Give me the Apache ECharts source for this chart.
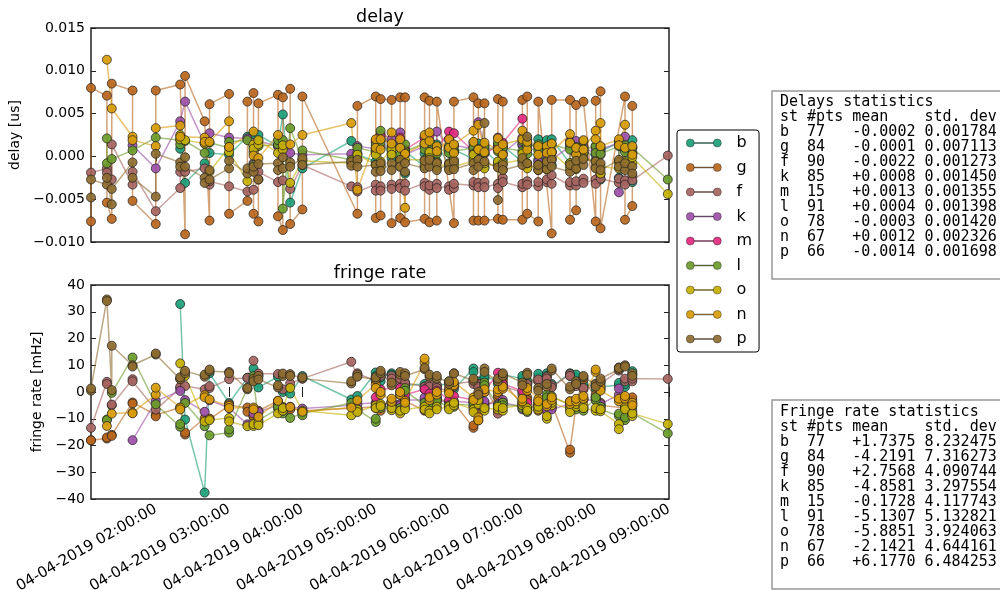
<!DOCTYPE html>
<html><head><meta charset="utf-8">
<script src="https://cdn.jsdelivr.net/npm/echarts@6/dist/echarts.min.js"></script>
<style>html,body{margin:0;padding:0;background:#fff}#c{width:1000px;height:590px}</style>
</head><body><div id="c"></div>
<script>
// ---------- data ----------
const scanTimes = ['01:07','01:20','01:24','01:41','02:00','02:20','02:24','02:40',
 '02:44','03:00','03:15','03:20','03:24','03:40','03:44','03:50',
 '04:00','04:40','04:45','05:00','05:04','05:13','05:20','05:24',
 '05:40','05:44','05:50','06:00','06:04','06:20','06:24','06:29',
 '06:40','06:44','07:00','07:04','07:13','07:20','07:24','07:39',
 '07:44','07:50','08:00','08:04','08:19','08:24','08:30','08:59'];
const xTickTimes = ['02:00','03:00','04:00','05:00','06:00','07:00','08:00','09:00'];
const delayTicks = [-0.010, -0.005, 0.000, 0.005, 0.010, 0.015];
const rateTicks = [-40, -30, -20, -10, 0, 10, 20, 30, 40];
const stations = ['b','g','f','k','m','l','o','n','p'];
const N = null;

const g_delay_hi = [0.0080,0.0071,0.0085,0.0077,0.0077,0.0084,0.0094,0.0041,
 0.0061,0.0073,0.0064,0.0074,0.0062,0.0072,0.0069,0.0079,
 0.0070,N,0.0059,0.0070,0.0067,0.0066,0.0069,0.0069,
 0.0069,0.0065,0.0064,N,0.0064,0.0069,0.0062,0.0062,
 0.0067,0.0064,0.0066,0.0070,0.0064,N,0.0066,0.0066,
 0.0060,0.0064,0.0065,0.0076,N,0.0070,0.0059,N];
const g_delay_lo = [-0.0076,-0.0054,-0.0073,-0.0052,-0.0079,N,-0.0091,N,
 -0.0075,-0.0067,-0.0052,-0.0067,-0.0076,-0.0070,-0.0086,-0.0079,
 -0.0062,N,-0.0067,-0.0072,-0.0069,-0.0078,-0.0072,-0.0077,
 -0.0073,-0.0077,-0.0075,N,-0.0078,-0.0075,-0.0075,-0.0075,
 -0.0073,-0.0074,-0.0074,-0.0067,-0.0076,N,-0.0090,-0.0074,
 -0.0063,N,-0.0076,-0.0084,N,-0.0074,-0.0058,N];
const g_rate_hi = [-18.1,-17.4,-16.4,-3.9,-9.1,-5.8,-15.2,-9.8,
 -9.9,-5.0,-7.4,-9.3,-7.4,-3.3,-5.6,-6.0,
 -7.4,N,-6.5,-5.5,-5.0,-3.7,0.0,-3.3,
 -6.6,-0.6,-2.0,N,-4.0,-13.4,-10.6,-5.0,
 -1.0,5.0,-4.0,-2.0,-6.0,N,-4.0,-22.7,
 -4.0,4.7,-1.0,-4.0,N,-6.0,-2.0,N];
const g_rate_lo = [-18.0,-17.0,-16.0,-4.3,-8.6,N,-15.9,N,
 -10.2,-4.6,-5.8,-9.0,-7.0,-3.8,-6.8,-6.5,
 -7.0,N,-6.0,-6.0,-7.0,-4.0,-1.0,-4.0,
 -7.0,-1.0,-3.0,N,-5.0,-12.5,-8.0,-6.0,
 -2.0,4.0,-5.0,-3.0,-7.0,N,-6.0,-21.5,
 -5.0,N,-2.0,-5.0,N,-5.0,-3.0,N];

const b_delay = [N,N,N,N,N,0.0009,-0.0031,-0.0008,
 0.0004,0.0002,0.0023,0.0026,0.0025,0.0012,0.0049,-0.0054,
 -0.0014,0.0018,0.0002,-0.0006,0.0019,-0.0002,0.0012,-0.0020,
 0.0003,-0.0009,0.0014,-0.0010,0.0008,-0.0003,0.0015,-0.0012,
 0.0010,-0.0004,0.0013,0.0020,0.0020,0.0019,0.0020,-0.0008,
 0.0005,0.0003,0.0012,-0.0027,-0.0025,-0.0013,0.0019,N];
const b_delay_2 = [N,N,N,N,N,N,N,N,
 N,N,N,N,N,N,N,N,
 N,N,N,0.0008,-0.0010,0.0010,-0.0004,0.0006,
 -0.0012,0.0004,-0.0006,0.0006,-0.0008,0.0012,-0.0002,0.0008,
 -0.0008,0.0012,-0.0006,0.0008,-0.0004,0.0006,-0.0010,0.0014,
 -0.0006,0.0010,-0.0004,0.0006,0.0016,0.0012,-0.0030,N];
const b_rate = [N,N,N,N,N,32.9,-10.3,-37.6,
 7.0,-4.1,5.3,8.8,1.7,5.7,0.0,-0.6,
 6.0,-2.8,-1.5,7.3,5.5,7.0,6.5,3.5,
 2.0,1.0,2.5,3.0,1.0,8.8,4.0,5.0,
 3.0,5.5,6.0,4.0,6.8,7.0,2.0,7.0,
 6.5,2.0,1.0,1.0,3.4,1.9,7.8,N];
const b_rate_2 = [N,N,N,N,N,N,N,N,
 N,N,N,N,N,N,N,N,
 N,N,N,6.0,4.0,6.5,5.0,2.5,
 3.0,0.0,1.5,4.0,2.0,7.5,3.0,6.0,
 4.0,6.5,5.0,3.0,5.5,6.0,3.0,6.0,
 5.5,3.0,2.0,2.0,2.5,3.0,6.5,N];

const f_delay = [-0.0019,-0.0014,0.0014,-0.0033,-0.0064,-0.0037,-0.0018,-0.0014,
 -0.0029,-0.0035,-0.0041,-0.0039,-0.0018,-0.0030,-0.0028,-0.0038,
 -0.0010,-0.0035,-0.0041,-0.0033,-0.0040,-0.0033,-0.0037,-0.0032,
 -0.0035,-0.0039,-0.0037,-0.0035,-0.0032,-0.0034,-0.0036,-0.0030,
 -0.0037,-0.0025,-0.0032,-0.0029,-0.0030,-0.0030,-0.0022,-0.0034,
 -0.0029,-0.0026,-0.0032,-0.0021,-0.0026,-0.0028,-0.0028,0.0001];
const f_delay_2 = [N,-0.0019,-0.0027,-0.0018,N,-0.0018,N,N,
 -0.0033,N,N,N,-0.0027,N,N,N,
 N,N,-0.0036,-0.0040,-0.0035,-0.0038,-0.0032,-0.0040,
 -0.0031,-0.0034,-0.0032,-0.0039,-0.0037,-0.0030,-0.0031,-0.0036,
 -0.0032,-0.0030,-0.0036,-0.0033,-0.0035,-0.0027,-0.0032,-0.0030,
 -0.0034,-0.0031,-0.0027,-0.0026,-0.0031,-0.0033,-0.0023,N];
const f_rate = [-13.4,3.8,-4.7,4.8,-6.6,1.5,2.2,1.0,
 2.2,4.8,5.3,11.7,6.9,6.7,1.0,3.2,
 5.0,11.3,7.0,4.0,7.2,6.0,5.0,2.5,
 1.0,3.0,1.5,0.5,3.0,4.0,2.0,3.0,
 -8.1,3.0,-1.0,2.0,4.7,5.7,1.7,6.7,
 2.2,0.9,3.0,3.8,9.2,4.0,5.0,4.9];
const f_rate_2 = [N,3.0,-5.0,4.0,N,2.0,N,N,
 1.5,N,N,N,6.0,N,N,N,
 N,N,6.0,5.0,6.0,5.0,4.0,3.5,
 2.0,2.0,2.5,1.5,2.0,3.0,3.0,2.0,
 -7.0,2.0,0.0,3.0,4.0,5.0,2.5,6.0,
 3.0,1.5,2.5,3.0,8.0,5.0,4.0,N];

const k_delay = [N,N,N,0.0013,-0.0014,0.0041,0.0064,0.0015,
 0.0027,0.0022,0.0021,-0.0008,0.0018,0.0012,0.0010,0.0004,
 0.0002,0.0003,0.0012,0.0009,0.0026,0.0011,0.0028,0.0008,
 0.0022,0.0005,0.0029,0.0011,0.0013,0.0009,0.0040,0.0012,
 0.0022,0.0011,0.0014,0.0009,-0.0006,0.0002,-0.0004,0.0012,
 0.0018,0.0005,0.0009,0.0002,-0.0042,0.0023,0.0010,N];
const k_delay_2 = [N,N,N,N,N,N,N,N,
 N,N,N,N,N,N,N,N,
 N,N,N,0.0016,0.0012,0.0020,0.0014,0.0002,
 0.0012,0.0018,0.0004,0.0020,0.0006,0.0016,0.0008,0.0004,
 0.0014,0.0004,0.0022,0.0016,0.0010,0.0008,0.0006,0.0018,
 0.0010,0.0012,0.0002,0.0008,0.0016,0.0008,0.0004,N];
const k_rate = [N,N,N,-18.0,-3.4,0.4,-3.0,-7.4,
 -3.1,-6.0,-12.1,-8.0,-7.4,-5.0,-6.0,-5.5,
 -6.2,-5.0,-4.5,-4.0,-5.5,-4.0,-5.0,-3.0,
 -2.0,-4.5,-2.4,-4.0,-3.5,-4.0,-5.0,-4.0,
 -5.5,-3.0,-6.5,-6.0,-5.0,-7.0,-6.5,-4.5,
 -3.5,-3.0,-2.0,-5.5,1.3,-3.5,-4.5,N];
const k_rate_2 = [N,N,N,N,N,N,N,N,
 N,N,N,N,N,N,N,N,
 N,N,N,-4.5,-5.0,-3.5,-4.5,-2.5,
 -3.0,-5.0,-3.0,-3.5,-4.5,-5.5,-4.5,-3.5,
 -4.5,-4.0,-5.5,-7.0,-4.0,-6.5,-5.5,-3.5,
 -4.5,-2.5,-3.0,-4.5,-1.0,-4.5,-5.5,N];

const m_delay = [N,N,N,N,N,N,N,N,
 N,N,N,N,N,N,N,N,
 N,N,N,0.0018,0.0024,N,0.0022,0.0008,
 0.0022,0.0024,0.0010,0.0029,0.0027,0.0006,N,0.0003,
 0.0012,0.0016,0.0044,0.0012,N,N,N,N,
 N,N,N,N,N,N,N,N];
const m_rate = [N,N,N,N,N,N,N,N,
 N,N,N,N,N,N,N,N,
 N,N,N,-2.0,1.0,N,1.5,-1.0,
 1.0,-0.6,0.5,-3.0,-1.5,-3.0,N,0.0,
 7.2,3.0,0.5,-4.0,N,N,N,N,
 N,N,N,N,N,N,N,N];

const l_delay = [N,0.0021,-0.0003,0.0007,0.0022,0.0019,0.0018,0.0004,
 0.0016,0.0010,0.0019,-0.0010,0.0012,0.0014,-0.0061,0.0033,
 0.0007,-0.0004,0.0010,0.0005,0.0030,0.0013,0.0002,0.0014,
 0.0008,0.0016,0.0003,0.0012,0.0006,0.0010,-0.0005,0.0004,
 0.0016,0.0002,0.0018,0.0003,0.0007,-0.0006,0.0014,0.0008,
 0.0011,0.0018,0.0004,0.0011,-0.0006,0.0005,0.0010,-0.0027];
const l_delay_2 = [N,-0.0008,N,N,N,0.0014,N,N,
 N,0.0017,N,0.0005,N,0.0019,0.0019,N,
 -0.0004,N,0.0004,0.0013,0.0016,0.0004,0.0010,0.0006,
 0.0015,0.0004,0.0010,0.0004,0.0012,0.0003,0.0008,0.0012,
 0.0006,0.0010,0.0006,0.0012,0.0014,0.0008,0.0004,0.0016,
 0.0003,0.0008,0.0012,0.0003,0.0012,0.0013,0.0003,N];
const l_rate = [N,-10.3,-0.3,12.9,-4.6,-13.0,-4.1,-12.8,
 -16.2,-15.2,1.5,5.9,-10.6,-6.2,-7.0,-9.7,
 -8.7,-4.1,-7.2,-11.2,-6.0,-5.0,-7.0,1.5,
 -4.0,-5.5,-3.0,-6.0,-4.5,-5.0,-3.0,3.5,
 -6.0,-4.0,-6.0,-7.5,-3.5,-1.0,-1.5,-5.0,
 -6.5,-7.0,-2.0,-5.5,-8.1,-10.5,-8.0,-15.5];
const l_rate_2 = [N,-10.5,N,N,N,-12.0,N,N,
 N,-14.0,N,4.5,N,-5.5,-8.0,N,
 -8.0,N,-6.5,-10.0,-5.0,-6.0,-6.0,0.5,
 -5.0,-4.5,-4.0,-5.0,-5.5,-4.0,-4.0,2.5,
 -5.0,-5.0,-5.0,-6.5,-4.5,-2.0,-2.5,-6.0,
 -5.5,-6.0,-3.0,-6.5,-9.0,-9.5,-7.0,N];

const o_delay = [N,N,N,N,N,0.0025,0.0019,0.0015,
 -0.0018,0.0011,-0.0029,0.0014,0.0019,0.0004,0.0013,-0.0031,
 -0.0005,-0.0008,0.0002,-0.0010,-0.0006,0.0008,-0.0012,0.0004,
 -0.0010,0.0005,-0.0013,-0.0008,-0.0012,-0.0005,0.0008,-0.0014,
 -0.0006,-0.0015,0.0003,-0.0014,-0.0010,-0.0015,0.0005,-0.0014,
 -0.0015,0.0004,-0.0012,-0.0020,-0.0007,-0.0012,-0.0001,-0.0044];
const o_delay_2 = [N,N,N,N,N,0.0020,N,N,
 N,0.0005,N,0.0009,0.0014,N,0.0008,N,
 N,N,-0.0004,0.0002,-0.0012,0.0002,-0.0006,-0.0004,
 -0.0004,-0.0002,-0.0007,-0.0014,-0.0004,0.0002,-0.0004,-0.0008,
 -0.0012,-0.0008,-0.0004,-0.0008,-0.0016,-0.0008,-0.0002,-0.0008,
 -0.0010,-0.0002,-0.0006,-0.0012,-0.0014,-0.0006,-0.0008,N];
const o_rate = [N,N,N,N,N,10.7,6.0,-11.0,
 -10.5,-9.7,-12.8,-12.7,-12.4,-8.0,-6.0,1.5,
 -7.0,-8.7,-7.5,-5.0,-5.3,-6.8,-7.0,-5.5,
 -6.6,-7.0,-6.5,-5.3,-4.0,-6.5,-3.0,-7.0,
 -5.5,-7.0,-4.0,-6.0,-5.5,-10.0,-4.0,-6.5,
 -4.5,-5.0,-6.0,-7.2,-13.9,-5.5,-8.0,-12.0];
const o_rate_2 = [N,N,N,N,N,5.0,N,N,
 N,-11.0,N,-12.0,-11.5,N,-7.0,N,
 N,N,-6.5,-6.0,-4.5,-6.0,-8.0,-6.5,
 -5.5,-8.0,-5.5,-6.5,-5.0,-7.5,-4.5,-6.0,
 -6.5,-6.0,-5.0,-7.0,-6.5,-9.0,-5.0,-7.5,
 -5.5,-6.0,-7.0,-6.5,-12.0,-6.5,-9.0,N];

const n_delay = [N,0.0113,0.0056,0.0023,0.0033,0.0036,N,0.0022,
 0.0017,0.0041,N,0.0029,-0.0002,0.0025,N,0.0014,
 0.0025,0.0039,-0.0039,0.0020,0.0020,0.0015,0.0010,-0.0060,
 0.0025,0.0018,0.0006,0.0020,0.0014,0.0030,0.0037,0.0005,
 0.0021,0.0002,0.0030,0.0008,0.0002,0.0012,0.0005,0.0026,
 0.0010,0.0019,0.0020,0.0039,0.0013,0.0037,0.0002,N];
const n_delay_2 = [N,N,N,0.0019,0.0012,0.0023,N,0.0017,
 N,0.0011,N,0.0001,N,N,N,N,
 N,N,N,0.0010,0.0008,0.0028,0.0020,0.0003,
 0.0015,0.0028,0.0012,0.0010,0.0004,0.0017,0.0008,0.0016,
 0.0008,0.0014,0.0020,0.0017,0.0012,0.0004,0.0015,0.0016,
 0.0002,0.0008,0.0030,0.0012,0.0020,0.0010,0.0012,N];
const n_rate = [N,-12.7,-8.1,-7.7,1.6,-5.8,N,-1.2,
 -2.8,-5.2,N,-5.8,-9.3,-3.3,N,-5.6,
 -7.4,-5.8,-3.1,2.8,0.0,-3.7,0.0,-3.3,
 12.5,-3.0,0.0,0.5,3.8,-2.0,-10.6,0.0,
 1.0,1.2,-2.5,0.5,-3.5,-5.3,-2.0,-4.5,
 -2.5,-2.5,8.4,1.7,-2.5,-2.5,-5.0,N];
const n_rate_2 = [N,N,N,-8.0,-1.0,-6.5,N,-2.0,
 N,-6.0,N,-6.5,N,N,N,N,
 N,N,N,1.5,-1.0,-2.5,-1.0,-4.0,
 11.0,-2.0,-1.0,-0.5,2.5,-3.0,-9.5,1.0,
 0.0,2.0,-3.5,1.5,-2.5,-4.5,-3.0,-3.5,
 -3.5,-1.5,7.5,0.5,-3.5,-1.5,-4.0,N];

const p_delay = [-0.0027,-0.0033,-0.0038,-0.0007,0.0003,-0.0007,-0.0012,-0.0025,
 -0.0027,-0.0014,-0.0014,-0.0018,-0.0009,-0.0008,-0.0001,-0.0007,
 -0.0010,-0.0006,-0.0012,-0.0010,-0.0017,-0.0008,-0.0012,-0.0018,
 -0.0005,-0.0012,-0.0016,-0.0009,-0.0015,-0.0008,-0.0012,0.0039,
 -0.0051,-0.0010,-0.0002,0.0023,-0.0010,-0.0015,-0.0012,-0.0018,
 -0.0005,-0.0010,-0.0014,-0.0008,-0.0012,-0.0016,-0.0020,N];
const p_delay_2 = [-0.0048,-0.0025,-0.0056,-0.0025,-0.0047,-0.0012,-0.0001,-0.0031,
 -0.0016,-0.0005,-0.0020,-0.0012,-0.0027,-0.0016,-0.0014,-0.0012,
 -0.0002,-0.0011,-0.0004,-0.0018,-0.0008,-0.0016,-0.0004,-0.0008,
 -0.0014,-0.0004,-0.0008,-0.0016,-0.0006,-0.0016,-0.0004,-0.0006,
 -0.0013,-0.0016,-0.0010,-0.0008,-0.0016,-0.0006,-0.0004,-0.0010,
 -0.0014,-0.0003,-0.0006,-0.0016,-0.0004,-0.0008,-0.0012,N];
const p_rate = [1.3,34.6,17.3,10.0,14.4,4.8,7.9,5.7,
 8.4,7.5,1.5,5.0,4.7,1.7,6.9,6.7,
 5.5,3.2,5.7,4.8,7.9,2.5,7.5,7.0,
 9.0,5.7,6.0,3.0,6.9,4.2,-1.0,8.8,
 5.0,6.0,2.5,7.2,0.5,2.0,8.8,1.0,
 3.0,5.5,2.0,4.0,9.0,10.0,6.0,N];
const p_rate_2 = [0.5,34.0,0.7,9.5,14.0,5.5,7.0,6.5,
 7.8,7.0,1.0,4.0,6.0,2.5,6.0,6.0,
 5.0,4.0,6.5,5.5,7.0,3.5,6.5,6.0,
 8.5,6.5,5.0,4.0,7.0,5.0,0.0,7.5,
 4.0,7.0,3.5,6.5,1.5,3.0,8.0,2.0,
 4.0,6.0,3.0,5.0,8.5,9.5,7.0,N];

// statistics tables
const statPts = [77,84,90,85,15,91,78,67,66];
const delayMean = [-0.0002,-0.0001,-0.0022,0.0008,0.0013,0.0004,-0.0003,0.0012,-0.0014];
const delayStd = [0.001784,0.007113,0.001273,0.001450,0.001355,0.001398,0.001420,0.002326,0.001698];
const rateMean = [1.7375,-4.2191,2.7568,-4.8581,-0.1728,-5.1307,-5.8851,-2.1421,6.1770];
const rateStd = [8.232475,7.316273,4.090744,3.297554,4.117743,5.132821,3.924063,4.644161,6.484253];

// ---------- build ----------
const colors = {b:'#1b9e77', g:'#b8661c', f:'#a6645f', k:'#9d50a8', m:'#e2297f',
  l:'#6a9b29', o:'#c6b003', n:'#d89b06', p:'#8d6b2f'};
const toMin = s => { const [h,m] = s.split(':').map(Number); return h*60+m; };
const EMPTY = scanTimes.map(()=>null);
function zig(a, b){ const out=[]; for(let i=0;i<scanTimes.length;i++){ const pair = i%2===0 ? [b[i],a[i]] : [a[i],b[i]]; pair.forEach(v=>{ if(v!==null) out.push([toMin(scanTimes[i]), v]); }); } return out; }
const delaySets = {b:zig(b_delay,b_delay_2), g:zig(g_delay_hi,g_delay_lo), f:zig(f_delay,f_delay_2), k:zig(k_delay,k_delay_2),
  m:zig(m_delay,EMPTY), l:zig(l_delay,l_delay_2), o:zig(o_delay,o_delay_2), n:zig(n_delay,n_delay_2), p:zig(p_delay,p_delay_2)};
const rateSets = {b:zig(b_rate,b_rate_2), g:zig(g_rate_hi,g_rate_lo), f:zig(f_rate,f_rate_2), k:zig(k_rate,k_rate_2),
  m:zig(m_rate,EMPTY), l:zig(l_rate,l_rate_2), o:zig(o_rate,o_rate_2), n:zig(n_rate,n_rate_2), p:zig(p_rate,p_rate_2)};

const FONT = 'DejaVu Sans';
const tickVals = xTickTimes.map(toMin);
const pad = n => String(n).padStart(2,'0');
const dateFmt = v => '04-04-2019 ' + pad(Math.floor(v/60)) + ':' + pad(v%60) + ':00';
const minus = s => s.replace('-', '\u2212');

function xAx(grid, pos, labels){
  return {type:'value', gridIndex:grid, position:pos, min:toMin('01:07'), max:toMin('09:00'),
    axisLine:{show:false}, splitLine:{show:false},
    axisTick:{show:true, inside:true, length:5, customValues:tickVals, lineStyle:{color:'#222', width:1}},
    axisLabel:{show:labels, customValues:tickVals, rotate:30, margin:9, interval:0, formatter:dateFmt,
      fontFamily:FONT, fontSize:15, color:'#000'}};
}
function yAx(grid, pos, min, max, step, fmt, name, gap){
  return {type:'value', gridIndex:grid, position:pos, min:min, max:max, interval:step,
    name: name || '', nameLocation:'middle', nameGap:gap||0, nameRotate:90,
    nameTextStyle:{fontFamily:FONT, fontSize:14, color:'#000'},
    axisLine:{show:false}, splitLine:{show:false},
    axisTick:{show:true, inside:true, length:5, lineStyle:{color:'#222', width:1}},
    axisLabel:{show:!!fmt, margin:6, formatter:fmt, fontFamily:FONT, fontSize:14, color:'#000'}};
}

const series = [];
stations.forEach(st => {
  const base = {type:'line', name:st, symbol:'circle', symbolSize:9, showSymbol:true,
    itemStyle:{color:colors[st], borderColor:'#222', borderWidth:0.8, opacity:0.92},
    lineStyle:{color:colors[st], width:1.5, opacity:0.6}, animation:false, clip:true};
  series.push(Object.assign({}, base, {xAxisIndex:0, yAxisIndex:0, data:delaySets[st]}));
  series.push(Object.assign({}, base, {xAxisIndex:2, yAxisIndex:2, data:rateSets[st]}));
});

function table(title, means, stds){
  const lines = [title, 'st #pts mean    std. dev'];
  stations.forEach((st,i)=>{
    const mu = (means[i] >= 0 ? '+' : '-') + Math.abs(means[i]).toFixed(4);
    lines.push(st.padEnd(3) + String(statPts[i]).padEnd(5) + mu + ' ' + stds[i].toFixed(6));
  });
  return lines.join('\n');
}
const txt = (x,y,text,font,extra) => ({type:'text', x:x, y:y, silent:true,
  style:Object.assign({text:text, font:font, fill:'#000'}, extra||{})});

const option = {
  animation:false,
  backgroundColor:'#fff',
  grid:[
    {left:91, top:28, width:578, height:214, show:true, borderColor:'#222', borderWidth:1.5, backgroundColor:'#fff', containLabel:false, outerBoundsMode:'none'},
    {left:91, top:285, width:578, height:214, show:true, borderColor:'#222', borderWidth:1.5, backgroundColor:'#fff', containLabel:false, outerBoundsMode:'none'}
  ],
  xAxis:[xAx(0,'bottom',false), xAx(0,'top',false), xAx(1,'bottom',true), xAx(1,'top',false)],
  yAxis:[
    yAx(0,'left',delayTicks[0],delayTicks[delayTicks.length-1],0.005, v=>minus(v.toFixed(3)), 'delay [us]', 66),
    yAx(0,'right',delayTicks[0],delayTicks[delayTicks.length-1],0.005, null),
    yAx(1,'left',rateTicks[0],rateTicks[rateTicks.length-1],10, v=>minus(String(Math.round(v))), 'fringe rate [mHz]', 42),
    yAx(1,'right',rateTicks[0],rateTicks[rateTicks.length-1],10, null)
  ],
  legend:{orient:'vertical', left:677, top:130, data:stations, selectedMode:false,
    icon:'path://M0,4a4,4 0 1,0 8,0a4,4 0 1,0 -8,0Z M27,4a4,4 0 1,0 8,0a4,4 0 1,0 -8,0Z M8,3.6h19v0.8h-19Z',
    itemWidth:35, itemHeight:8, itemGap:8.5, padding:[5,7,5,9],
    itemStyle:{borderColor:'rgba(40,40,40,0.8)', borderWidth:0.6},
    borderColor:'#000', borderWidth:1, borderRadius:3, backgroundColor:'#fff',
    formatter: name => '  ' + name,
    textStyle:{fontFamily:FONT, fontSize:16, color:'#000'}},
  graphic:[
    txt(380,17,'delay','17.5px "DejaVu Sans"',{align:'center', verticalAlign:'middle', textAlign:'center', textVerticalAlign:'middle'}),
    txt(380,273,'fringe rate','17.5px "DejaVu Sans"',{align:'center', verticalAlign:'middle', textAlign:'center', textVerticalAlign:'middle'}),
    {type:'rect', shape:{x:772, y:91, width:260, height:188}, style:{fill:'#fff', stroke:'#999', lineWidth:1.5}, silent:true},
    txt(780,95, table('Delays statistics', delayMean, delayStd), '15px "DejaVu Sans Mono"', {lineHeight:15, verticalAlign:'top', textVerticalAlign:'top'}),
    {type:'rect', shape:{x:772, y:400, width:260, height:189}, style:{fill:'#fff', stroke:'#999', lineWidth:1.5}, silent:true},
    txt(780,405, table('Fringe rate statistics', rateMean, rateStd), '15px "DejaVu Sans Mono"', {lineHeight:15, verticalAlign:'top', textVerticalAlign:'top'})
  ],
  series:series
};
const chart = echarts.init(document.getElementById('c'), null, {renderer:'canvas'});
chart.setOption(option);
</script>
</body></html>
